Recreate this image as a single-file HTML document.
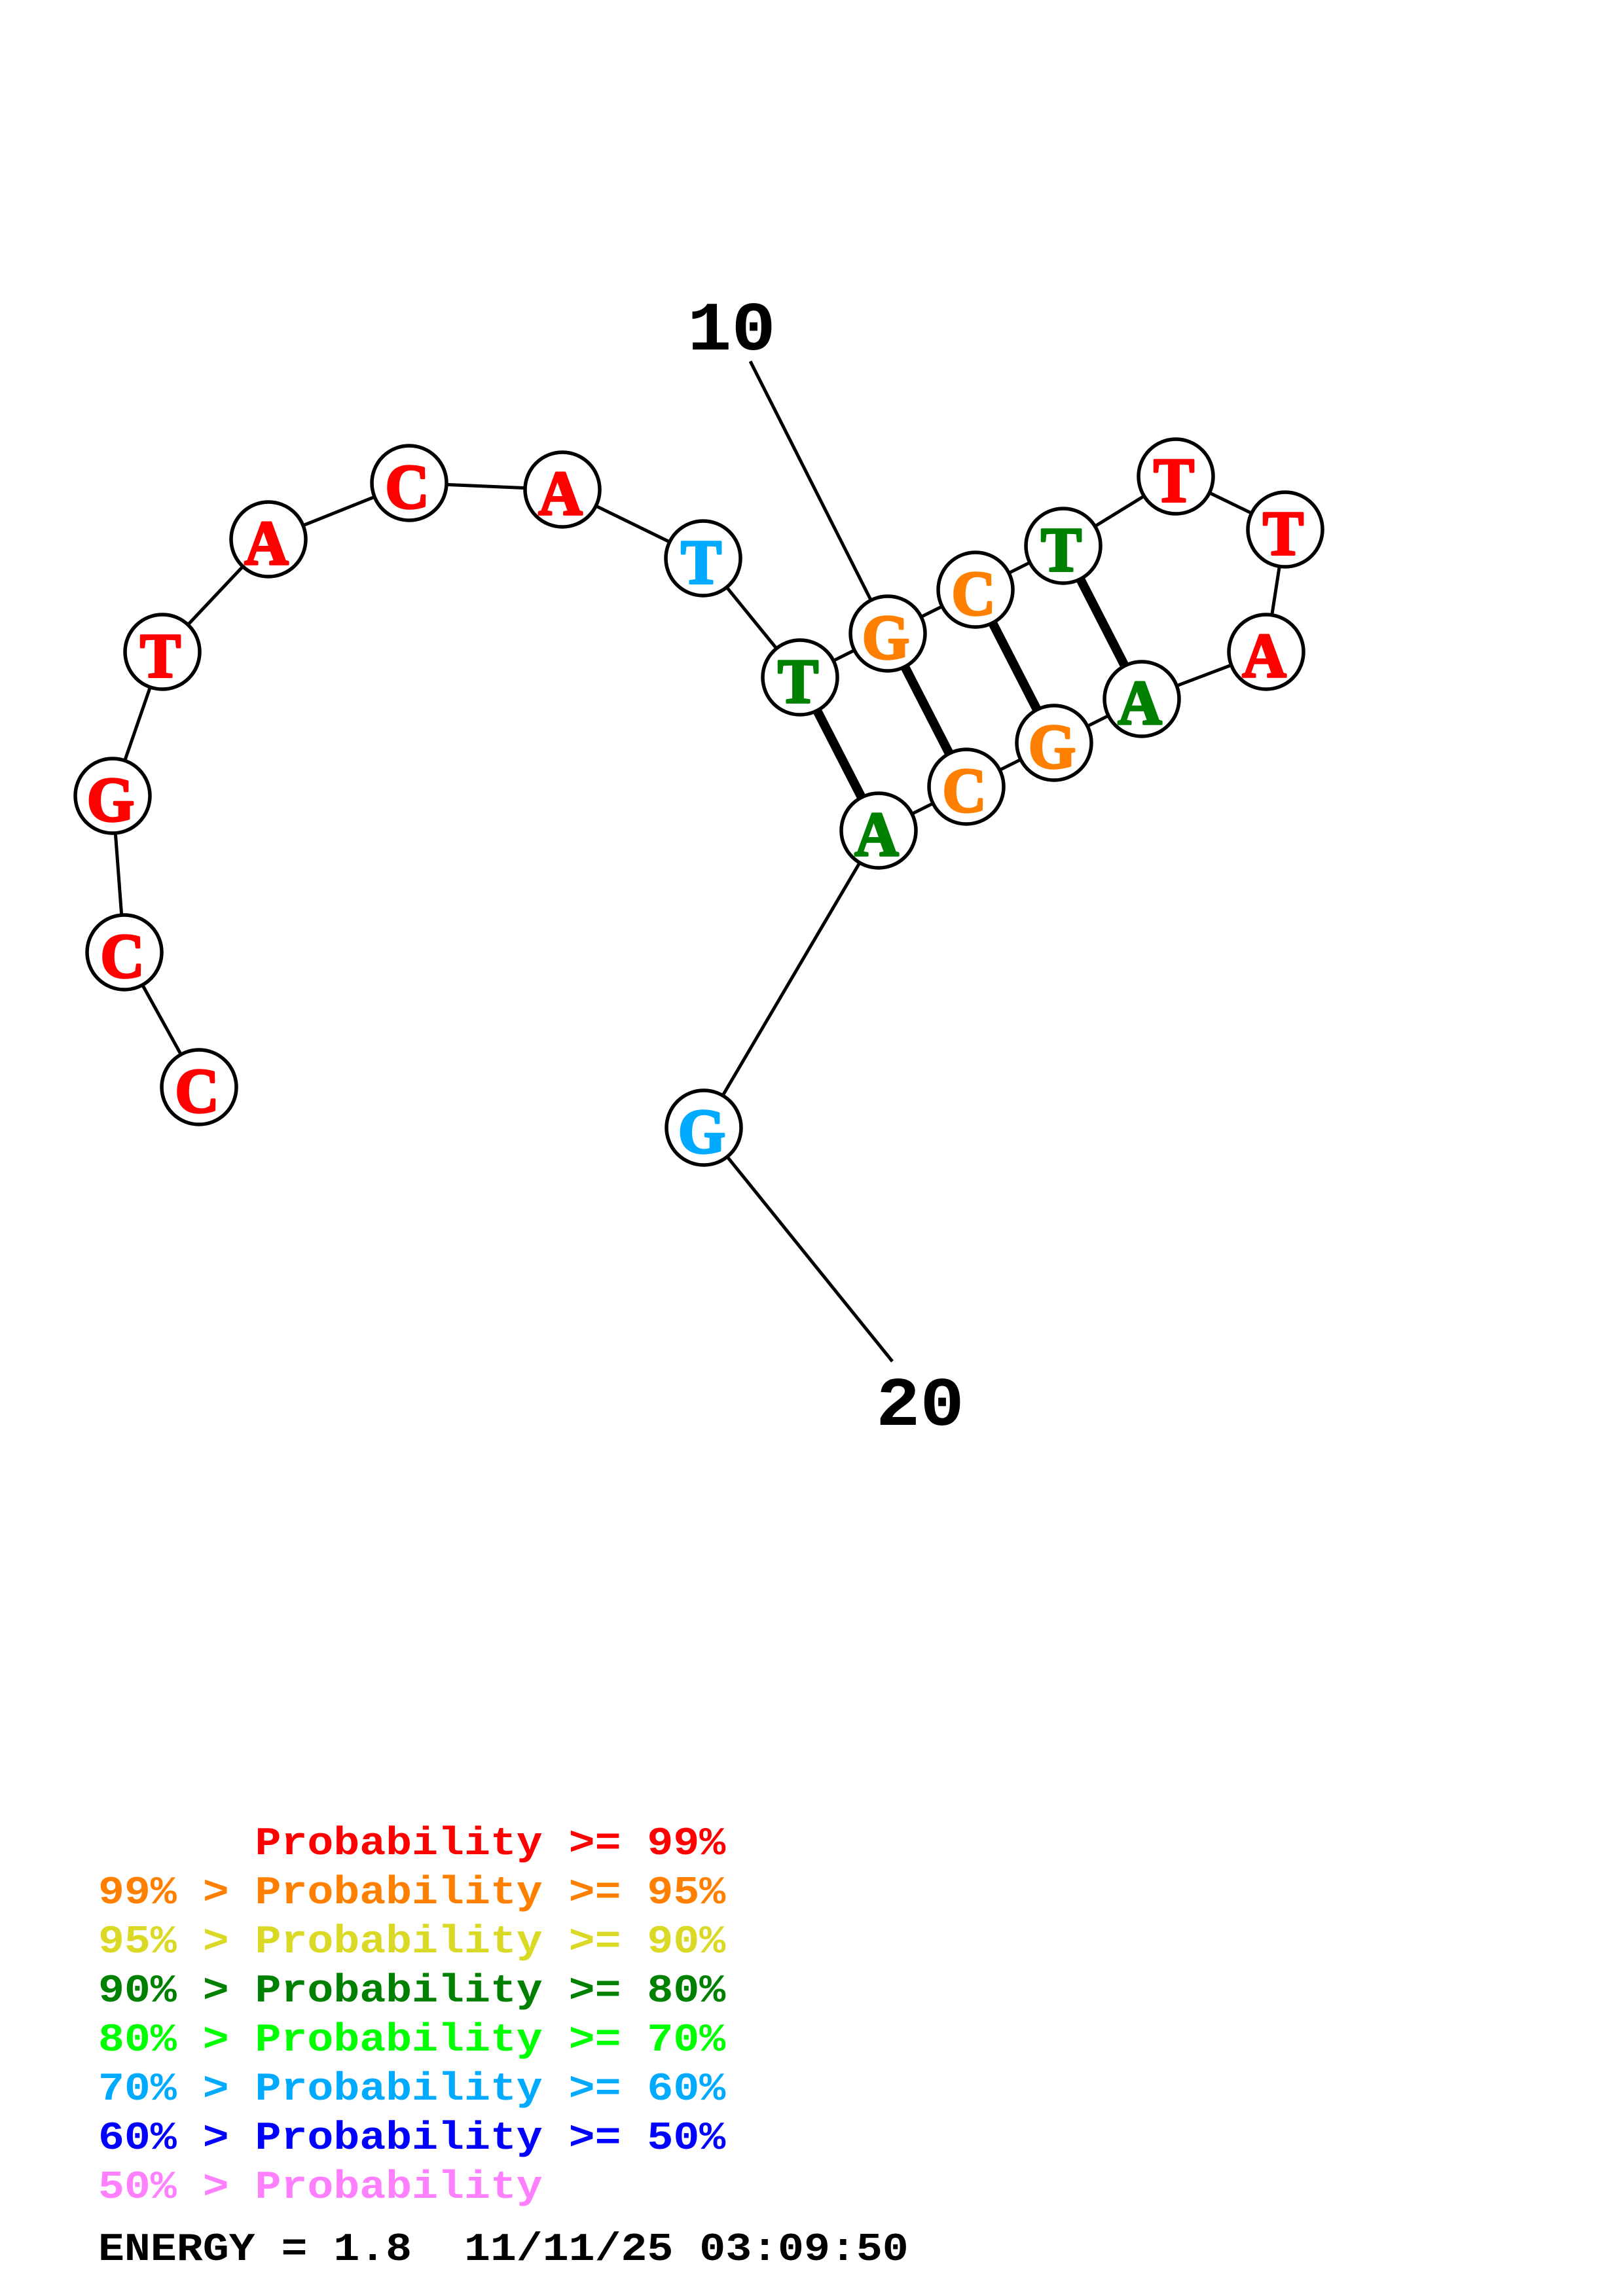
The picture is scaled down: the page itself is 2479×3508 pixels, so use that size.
<!DOCTYPE html>
<html>
<head>
<meta charset="utf-8">
<style>
html,body{margin:0;padding:0;background:#fff}
svg{display:block}
text{font-family:"Liberation Mono",monospace;font-weight:bold;white-space:pre}
.n{font-family:"Liberation Serif",serif;font-size:96px;text-anchor:middle;stroke-width:3.5px;stroke-linejoin:round}
.l{font-size:60.5px}
</style>
</head>
<body>
<svg width="2479" height="3508" viewBox="0 0 2479 3508" xmlns="http://www.w3.org/2000/svg">
<rect width="2479" height="3508" fill="#fff"/>
<polyline fill="none" stroke="#000" stroke-width="5" points="304,1661 190,1455 172,1216 248,996 410,824 625,738 859,748 1074,853 1222,1035 1356,968 1490,901 1624,834 1796,728 1963,809 1934,996 1744,1068 1610,1135 1476,1202 1342,1269 1075,1723 1363,2080"/>
<line x1="1356" y1="968" x2="1146" y2="552" stroke="#000" stroke-width="5"/>
<g stroke="#000" stroke-width="14">
<line x1="1222" y1="1035" x2="1342" y2="1269"/>
<line x1="1356" y1="968" x2="1476" y2="1202"/>
<line x1="1490" y1="901" x2="1610" y2="1135"/>
<line x1="1624" y1="834" x2="1744" y2="1068"/>
</g>
<g fill="#fff" stroke="#000" stroke-width="5.5">
<circle cx="304" cy="1661" r="57"/>
<circle cx="190" cy="1455" r="57"/>
<circle cx="172" cy="1216" r="57"/>
<circle cx="248" cy="996" r="57"/>
<circle cx="410" cy="824" r="57"/>
<circle cx="625" cy="738" r="57"/>
<circle cx="859" cy="748" r="57"/>
<circle cx="1074" cy="853" r="57"/>
<circle cx="1222" cy="1035" r="57"/>
<circle cx="1356" cy="968" r="57"/>
<circle cx="1490" cy="901" r="57"/>
<circle cx="1624" cy="834" r="57"/>
<circle cx="1796" cy="728" r="57"/>
<circle cx="1963" cy="809" r="57"/>
<circle cx="1934" cy="996" r="57"/>
<circle cx="1744" cy="1068" r="57"/>
<circle cx="1610" cy="1135" r="57"/>
<circle cx="1476" cy="1202" r="57"/>
<circle cx="1342" cy="1269" r="57"/>
<circle cx="1075" cy="1723" r="57"/>
</g>
<g class="nodes">
<text class="n" fill="#ff0000" stroke="#ff0000" transform="translate(301,1699) scale(0.97,1)">C</text>
<text class="n" fill="#ff0000" stroke="#ff0000" transform="translate(187,1493) scale(0.97,1)">C</text>
<text class="n" fill="#ff0000" stroke="#ff0000" transform="translate(169,1254) scale(0.97,1)">G</text>
<text class="n" fill="#ff0000" stroke="#ff0000" transform="translate(245,1034) scale(0.97,1)">T</text>
<text class="n" fill="#ff0000" stroke="#ff0000" transform="translate(407,862) scale(0.97,1)">A</text>
<text class="n" fill="#ff0000" stroke="#ff0000" transform="translate(622,776) scale(0.97,1)">C</text>
<text class="n" fill="#ff0000" stroke="#ff0000" transform="translate(856,786) scale(0.97,1)">A</text>
<text class="n" fill="#00aaff" stroke="#00aaff" transform="translate(1071,891) scale(0.97,1)">T</text>
<text class="n" fill="#008000" stroke="#008000" transform="translate(1219,1073) scale(0.97,1)">T</text>
<text class="n" fill="#ff8000" stroke="#ff8000" transform="translate(1353,1006) scale(0.97,1)">G</text>
<text class="n" fill="#ff8000" stroke="#ff8000" transform="translate(1487,939) scale(0.97,1)">C</text>
<text class="n" fill="#008000" stroke="#008000" transform="translate(1621,872) scale(0.97,1)">T</text>
<text class="n" fill="#ff0000" stroke="#ff0000" transform="translate(1793,766) scale(0.97,1)">T</text>
<text class="n" fill="#ff0000" stroke="#ff0000" transform="translate(1960,847) scale(0.97,1)">T</text>
<text class="n" fill="#ff0000" stroke="#ff0000" transform="translate(1931,1034) scale(0.97,1)">A</text>
<text class="n" fill="#008000" stroke="#008000" transform="translate(1741,1106) scale(0.97,1)">A</text>
<text class="n" fill="#ff8000" stroke="#ff8000" transform="translate(1607,1173) scale(0.97,1)">G</text>
<text class="n" fill="#ff8000" stroke="#ff8000" transform="translate(1473,1240) scale(0.97,1)">C</text>
<text class="n" fill="#008000" stroke="#008000" transform="translate(1339,1307) scale(0.97,1)">A</text>
<text class="n" fill="#00aaff" stroke="#00aaff" transform="translate(1072,1761) scale(0.97,1)">G</text>
</g>
<text font-size="106" fill="#000" transform="translate(1050,534) scale(1.06,1)">10</text>
<text font-size="106" fill="#000" transform="translate(1338,2177) scale(1.06,1)">20</text>
<g>
<text class="l" fill="#ff0000" transform="translate(150,2833) scale(1.1,1)">      Probability &gt;= 99%</text>
<text class="l" fill="#ff8000" transform="translate(150,2908) scale(1.1,1)">99% &gt; Probability &gt;= 95%</text>
<text class="l" fill="#d9d926" transform="translate(150,2983) scale(1.1,1)">95% &gt; Probability &gt;= 90%</text>
<text class="l" fill="#008000" transform="translate(150,3058) scale(1.1,1)">90% &gt; Probability &gt;= 80%</text>
<text class="l" fill="#00ff00" transform="translate(150,3133) scale(1.1,1)">80% &gt; Probability &gt;= 70%</text>
<text class="l" fill="#00aaff" transform="translate(150,3208) scale(1.1,1)">70% &gt; Probability &gt;= 60%</text>
<text class="l" fill="#0000ff" transform="translate(150,3283) scale(1.1,1)">60% &gt; Probability &gt;= 50%</text>
<text class="l" fill="#ff80ff" transform="translate(150,3358) scale(1.1,1)">50% &gt; Probability</text>
<text class="l" fill="#000" transform="translate(150,3453) scale(1.1,1)">ENERGY = 1.8  11/11/25 03:09:50</text>
</g>
</svg>
</body>
</html>
